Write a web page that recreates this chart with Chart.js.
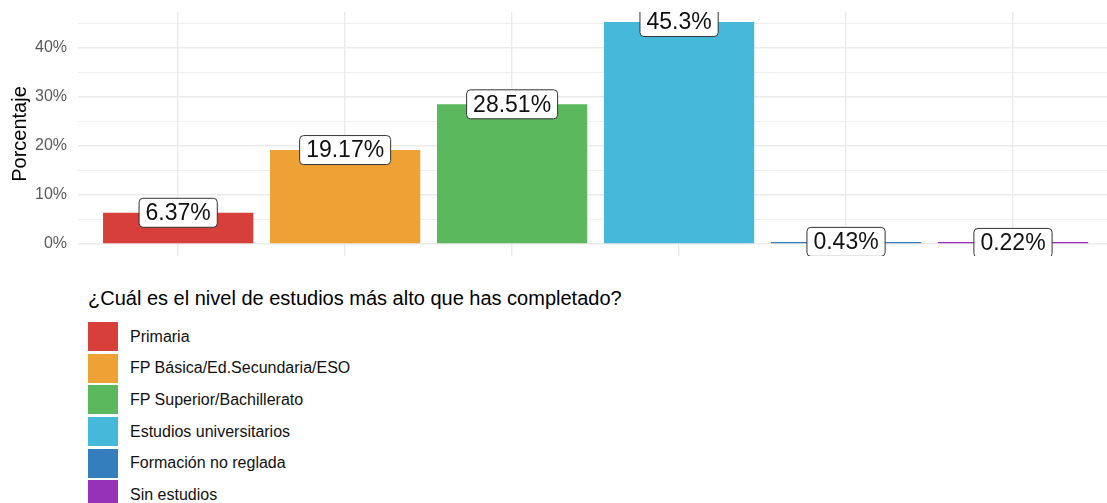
<!DOCTYPE html>
<html>
<head>
<meta charset="utf-8">
<script src="https://cdn.jsdelivr.net/npm/chart.js@4/dist/chart.umd.min.js"></script>
<style>
  html, body { margin: 0; padding: 0; background: #fff; overflow: hidden; }
  #wrap { position: relative; width: 1107px; height: 503px; font-family: "Liberation Sans", Arial, sans-serif; }
  #grafica { position: absolute; left: 0; top: 0; }
  #leyenda { position: absolute; left: 88px; top: 285px; }
  #leyenda .titulo { font-size: 20px; color: #000; line-height: 26px; margin-bottom: 10px; }
  #leyenda .item { display: flex; align-items: center; height: 31.6px; }
  #leyenda .caja { width: 30px; height: 29px; margin-right: 12px; }
  #leyenda .texto { font-size: 16px; color: #111; }
</style>
</head>
<body>
<div id="wrap">
  <canvas id="grafica" width="1107" height="270"></canvas>
  <div id="leyenda"></div>
</div>
<script>
// datos
const categorias = ['Primaria', 'FP Básica/Ed.Secundaria/ESO', 'FP Superior/Bachillerato',
  'Estudios universitarios', 'Formación no reglada', 'Sin estudios'];
const porcentajes = [6.37, 19.17, 28.51, 45.3, 0.43, 0.22];
const colores = ['#d63f3a', '#eea236', '#5cb85c', '#46b8da', '#357ebd', '#9632b8'];
const ticksY = [0, 10, 20, 30, 40];
const tituloLeyenda = '¿Cuál es el nivel de estudios más alto que has completado?';

Chart.defaults.font.family = '"Liberation Sans", Arial, sans-serif';

// etiquetas tipo geom_label sobre cada barra
const etiquetas = {
  id: 'etiquetas',
  afterDatasetsDraw(chart) {
    const ctx = chart.ctx;
    const area = chart.chartArea;
    const meta = chart.getDatasetMeta(0);
    ctx.save();
    ctx.beginPath();
    ctx.rect(area.left, area.top, area.right - area.left, area.bottom - area.top);
    ctx.clip();
    ctx.font = '23px "Liberation Sans", Arial, sans-serif';
    ctx.textAlign = 'center';
    ctx.textBaseline = 'middle';
    meta.data.forEach((bar, i) => {
      const txt = porcentajes[i] + '%';
      const w = ctx.measureText(txt).width + 13;
      const h = 29;
      // centrada en el valor real, no en la barra alargada
      const yv = chart.scales.y.getPixelForValue(porcentajes[i]);
      const x = bar.x - w / 2;
      const y = yv - h / 2;
      ctx.beginPath();
      ctx.roundRect(x, y, w, h, 4);
      ctx.fillStyle = '#fff';
      ctx.fill();
      ctx.lineWidth = 1;
      ctx.strokeStyle = '#333';
      ctx.stroke();
      ctx.fillStyle = '#111';
      ctx.fillText(txt, bar.x, yv + 1);
    });
    ctx.restore();
  }
};

const ctx = document.getElementById('grafica').getContext('2d');
const grafica = new Chart(ctx, {
  type: 'bar',
  data: {
    datasets: [{
      data: porcentajes.map((v, i) => ({ x: i + 1, y: v })),
      backgroundColor: colores,
      borderWidth: 0,
      minBarLength: 2,
      barPercentage: 0.9,
      categoryPercentage: 1.0
    }]
  },
  options: {
    responsive: false,
    animation: false,
    layout: { padding: { top: 12, right: 0, left: 0, bottom: 0 } },
    plugins: { legend: { display: false }, tooltip: { enabled: false } },
    scales: {
      x: {
        type: 'linear',
        offset: false,
        min: 0.4,
        max: 6.563,
        afterBuildTicks: (scale) => { scale.ticks = categorias.map((c, i) => ({ value: i + 1 })); },
        afterFit: (scale) => { scale.height = 14; },
        ticks: { display: false },
        grid: { color: '#ebebeb', lineWidth: 1.4, drawTicks: false, offset: false },
        border: { display: false }
      },
      y: {
        min: -2.45,
        max: 47.35,
        afterBuildTicks: (scale) => {
          const t = [];
          for (let v = 0; v <= 45; v += 5) t.push({ value: v });
          scale.ticks = t;
        },
        afterFit: (scale) => {
          scale.width = 78;
          scale.paddingTop = 0;
          scale.paddingBottom = 0;
        },
        ticks: {
          padding: 11,
          color: '#5a5a5a',
          font: { size: 16 },
          callback: (v) => ticksY.includes(v) ? v + '%' : ''
        },
        grid: {
          color: '#ebebeb',
          lineWidth: (c) => (c.tick && c.tick.value % 10 === 0) ? 1.4 : 0.8,
          drawTicks: false,
          tickLength: 0
        },
        border: { display: false },
        title: {
          display: true,
          text: 'Porcentaje',
          color: '#000',
          font: { size: 20 },
          padding: { top: 8, bottom: 0 }
        }
      }
    }
  },
  plugins: [etiquetas]
});

// leyenda en HTML
const leyenda = document.getElementById('leyenda');
let html = '<div class="titulo">' + tituloLeyenda + '</div>';
categorias.forEach((c, i) => {
  html += '<div class="item"><div class="caja" style="background:' + colores[i] + '"></div>' +
          '<div class="texto">' + c + '</div></div>';
});
leyenda.innerHTML = html;
</script>
</body>
</html>
